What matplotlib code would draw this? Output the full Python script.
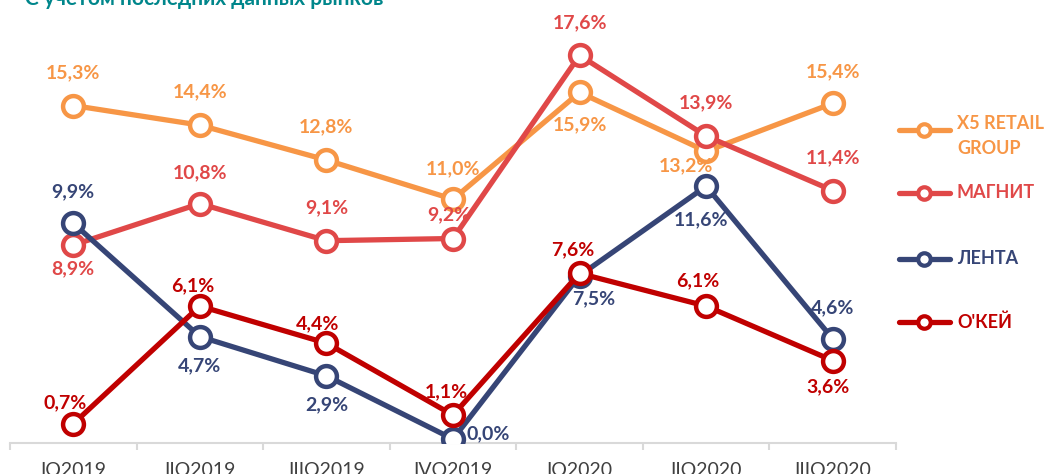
import matplotlib.pyplot as plt
from matplotlib.lines import Line2D

plt.rcParams['font.family'] = ['Lato', 'DejaVu Sans']

quarters = ['IQ2019', 'IIQ2019', 'IIIQ2019', 'IVQ2019', 'IQ2020', 'IIQ2020', 'IIIQ2020']
x5 = [15.3, 14.4, 12.8, 11.0, 15.9, 13.2, 15.4]
magnit = [8.9, 10.8, 9.1, 9.2, 17.6, 13.9, 11.4]
lenta = [9.9, 4.7, 2.9, 0.0, 7.5, 11.6, 4.6]
okey = [0.7, 6.1, 4.4, 1.1, 7.6, 6.1, 3.6]

names = ['X5 RETAIL\nGROUP', 'МАГНИТ', 'ЛЕНТА', "О'КЕЙ"]
colors = ['#F79646', '#E04848', '#364576', '#C00000']

# label offsets from the point, in pixels (dx right, dy up)
x5_off = [(0, 33), (0, 33), (0, 33), (0, 31), (0, -32), (-20, -14), (0, 32)]
magnit_off = [(0, -24), (0, 31), (0, 33), (-4, 24), (0, 33), (0, 33), (0, 33)]
lenta_off = [(0, 31), (0, -29), (0, -29), (35, 5), (14, -23), (-5, -34), (0, 31)]
okey_off = [(-8, 21), (-7, 20), (-9, 19), (-7, 23), (-7, 24), (-8, 25), (-5, -26)]

fig = plt.figure(figsize=(10.46, 4.74), dpi=100)
ax = fig.add_axes([10 / 1046, 31 / 474, 886 / 1046, 443 / 474])

series = [x5, magnit, lenta, okey]
offsets = [x5_off, magnit_off, lenta_off, okey_off]
xs = list(range(len(quarters)))
for vals, col, offs in zip(series, colors, offsets):
    ax.plot(xs, vals, color=col, lw=3.8, marker='o', ms=15, mfc='white',
            mec=col, mew=3.2, solid_capstyle='round', zorder=3)
    for xi, v, (dx, dy) in zip(xs, vals, offs):
        ax.annotate(f'{v:.1f}%'.replace('.', ','), (xi, v), xytext=(dx, dy),
                    textcoords='offset pixels', ha='center', va='center',
                    color=col, fontsize=14, fontweight='bold', zorder=4)

ax.set_xlim(-0.5, 6.5)
ax.set_ylim(-0.18, 20.14)
for s in ['top', 'right', 'left']:
    ax.spines[s].set_visible(False)
ax.spines['bottom'].set_color('#D9D9D9')
ax.spines['bottom'].set_linewidth(1.5)
ax.set_yticks([])
ax.set_xticks([i - 0.5 for i in range(len(quarters) + 1)])
ax.set_xticklabels([])
ax.set_xticks(xs, minor=True)
ax.set_xticklabels(quarters, minor=True)
ax.tick_params(axis='x', which='major', length=5, width=1.5, color='#D9D9D9')
ax.tick_params(axis='x', which='minor', length=0, pad=14, labelsize=14,
               labelcolor='#404040')

# legend drawn by hand on the right
leg_y = [130, 193, 259, 322]
for name, col, yp in zip(names, colors, leg_y):
    yf = 1 - yp / 474
    fig.add_artist(Line2D([899 / 1046, 950 / 1046], [yf, yf], color=col, lw=3.8,
                          solid_capstyle='round'))
    fig.add_artist(Line2D([924 / 1046], [yf], marker='o', ms=9, mfc='white',
                          mec=col, mew=3))
    if '\n' in name:
        fig.text(957 / 1046, yf + 15 / 474, name, color=col, fontsize=13,
                 fontweight='bold', va='top', linespacing=1.55)
    else:
        fig.text(957 / 1046, yf, name, color=col, fontsize=13,
                 fontweight='bold', va='center')

# title above the plot, mostly cut off by the top edge
fig.text(25 / 1046, 1 - 5 / 474, 'С учетом последних данных рынков', color='#00868B',
         fontsize=15, fontweight='bold', va='baseline')

fig.savefig('out.png', dpi=100)
